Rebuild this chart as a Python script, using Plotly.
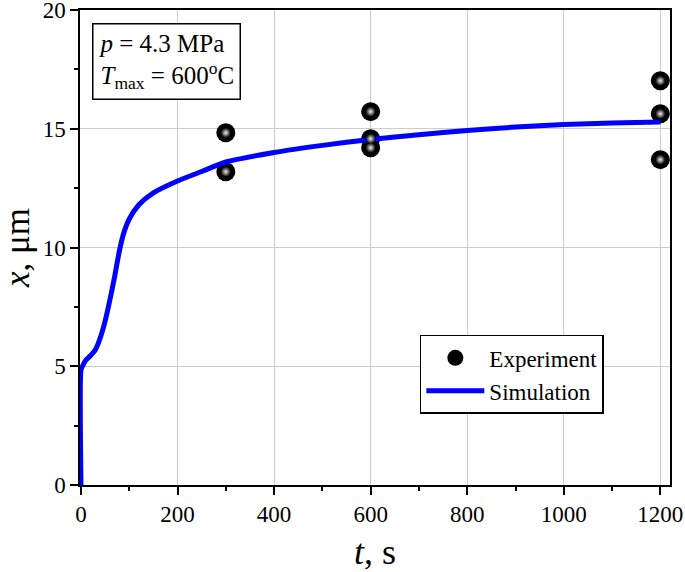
import plotly.graph_objects as go

# Experiment data
exp_t = [300, 300, 600, 600, 600, 1200, 1200, 1200]
exp_x = [14.83, 13.19, 15.72, 14.58, 14.2, 17.02, 15.63, 13.7]

# Simulation curve
sim_t = [0, 0, 3, 10, 20, 30, 40, 50, 60, 70, 80, 90, 100, 120, 150, 200, 250, 300,
         400, 500, 600, 700, 800, 900, 1000, 1100, 1200]
sim_x = [0, 4.85, 5.0, 5.25, 5.45, 5.7, 6.2, 6.9, 7.8, 8.8, 9.9, 10.7, 11.2, 11.8,
         12.3, 12.8, 13.2, 13.6, 14.0, 14.3, 14.55, 14.75, 14.93, 15.07, 15.18, 15.24, 15.28]

x_ticks = [0, 200, 400, 600, 800, 1000, 1200]
y_ticks = [0, 5, 10, 15, 20]

FONT = "Liberation Serif"

fig = go.Figure()
fig.add_trace(go.Scatter(
    x=exp_t, y=exp_x, mode="markers", name="Experiment",
    marker=dict(color="black", size=19, line=dict(width=0)),
))
fig.add_trace(go.Scatter(
    x=sim_t, y=sim_x, mode="lines", name="Simulation",
    line=dict(color="#0000ff", width=5, shape="spline", smoothing=0.6),
))
fig.add_trace(go.Scatter(
    x=exp_t, y=exp_x, mode="markers", showlegend=False, hoverinfo="skip",
    marker=dict(color="black", size=10, line=dict(width=0),
                gradient=dict(type="radial", color="#f0f0f0")),
))

axis_common = dict(
    showline=True, linecolor="black", linewidth=1.5, mirror=True,
    showgrid=True, gridcolor="#cccccc", gridwidth=1,
    ticks="outside", ticklen=8, tickwidth=1.5, tickcolor="black",
    zeroline=False, automargin=False, ticklabeloverflow="allow",
    tickfont=dict(family=FONT, size=23, color="black"),
)

fig.update_xaxes(
    range=[-2, 1220], tickvals=x_ticks,
    minor=dict(dtick=100, tick0=0, ticks="outside", ticklen=4, tickcolor="black", showgrid=False),
    title=dict(text="<i>t</i>, s", font=dict(family=FONT, size=36, color="black"), standoff=16),
    **axis_common,
)
fig.update_yaxes(
    range=[0, 20], tickvals=y_ticks,
    minor=dict(dtick=2.5, tick0=0, ticks="outside", ticklen=4, tickcolor="black", showgrid=False),
    **axis_common,
)

# y-axis title placed as an annotation for exact positioning
fig.add_annotation(
    xref="paper", yref="paper", x=-0.106, y=0.5, xanchor="center", yanchor="middle",
    text="<i>x</i>, μm", textangle=-90, showarrow=False,
    font=dict(family=FONT, size=35, color="black"),
)

fig.add_annotation(
    xref="paper", yref="paper", x=0.02, y=0.973, xanchor="left", yanchor="top",
    text="<i>p</i> = 4.3 MPa<br><i>T</i><sub>max</sub> = 600<sup>o</sup>C",
    showarrow=False, align="left",
    font=dict(family=FONT, size=25, color="black"),
    bordercolor="black", borderwidth=1.5, borderpad=5, bgcolor="white",
)

fig.update_layout(
    width=685, height=572,
    margin=dict(l=80, r=15, t=10, b=87),
    plot_bgcolor="white", paper_bgcolor="white",
    font=dict(family=FONT, color="black"),
    legend=dict(
        x=0.576, y=0.316, xanchor="left", yanchor="top",
        bordercolor="black", borderwidth=1.5, bgcolor="white",
        font=dict(family=FONT, size=23, color="black"),
        itemwidth=58, tracegroupgap=0,
    ),
)

fig.write_html(
    "out.html",
    config={"displayModeBar": False},
    post_script="document.body.style.margin='0';document.body.style.padding='0';document.body.style.overflow='hidden';",
)
